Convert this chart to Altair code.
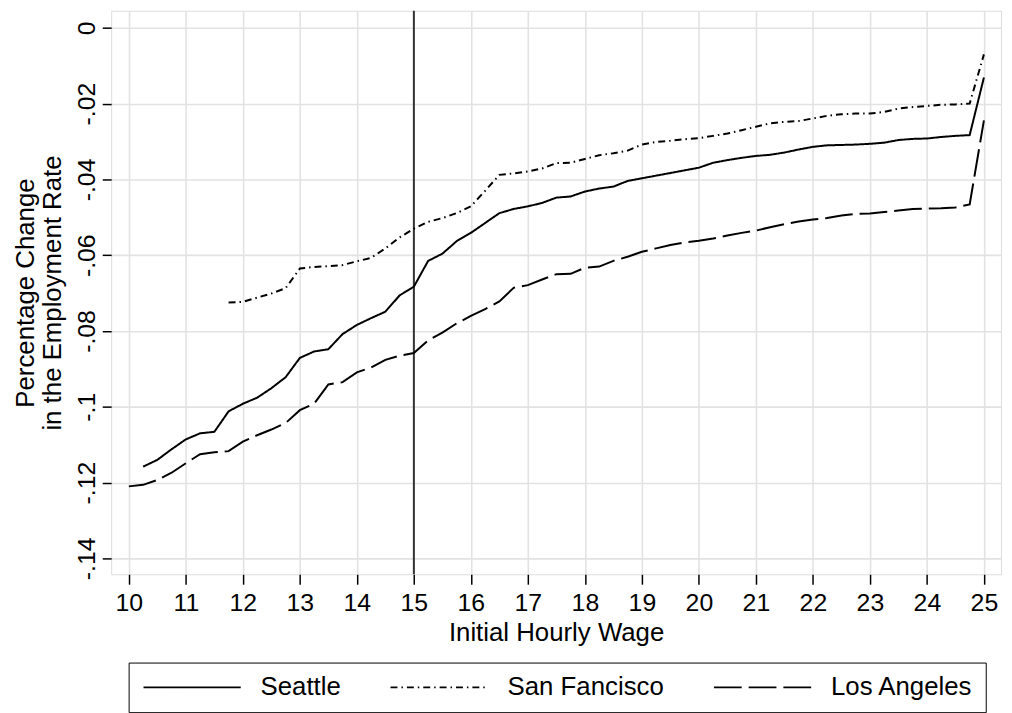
import altair as alt
import pandas as pd

cities = ["Seattle", "San Fancisco", "Los Angeles"]

wage_la = [10.0, 10.25, 10.5, 10.75, 11.0, 11.25, 11.5, 11.75, 12.0, 12.25, 12.5, 12.75,
           13.0, 13.25, 13.5, 13.75, 14.0, 14.25, 14.5, 14.75, 15.0, 15.25, 15.5, 15.75,
           16.0, 16.25, 16.5, 16.75, 17.0, 17.25, 17.5, 17.75, 18.0, 18.25, 18.5, 18.75,
           19.0, 19.25, 19.5, 19.75, 20.0, 20.25, 20.5, 20.75, 21.0, 21.25, 21.5, 21.75,
           22.0, 22.25, 22.5, 22.75, 23.0, 23.25, 23.5, 23.75, 24.0, 24.25, 24.5, 24.75, 25.0]
wage_seattle = wage_la[1:]
wage_sf = wage_la[7:]

seattle = [-0.1158, -0.1140, -0.1112, -0.1086, -0.1070, -0.1066, -0.1012, -0.0992, -0.0976,
           -0.0951, -0.0922, -0.0871, -0.0854, -0.0848, -0.0808, -0.0784, -0.0766, -0.0749,
           -0.0706, -0.0683, -0.0615, -0.0596, -0.0563, -0.0541, -0.0515, -0.0489, -0.0478,
           -0.0471, -0.0462, -0.0448, -0.0445, -0.0432, -0.0424, -0.0419, -0.0404, -0.0397,
           -0.0390, -0.0383, -0.0376, -0.0369, -0.0356, -0.0349, -0.0343, -0.0338, -0.0335,
           -0.0329, -0.0321, -0.0314, -0.0310, -0.0309, -0.0308, -0.0306, -0.0303, -0.0296,
           -0.0293, -0.0292, -0.0288, -0.0285, -0.0283, -0.0131]

san_francisco = [-0.0725, -0.0723, -0.0712, -0.0701, -0.0687, -0.0635, -0.0631, -0.0629,
                 -0.0626, -0.0616, -0.0607, -0.0582, -0.0553, -0.0530, -0.0512, -0.0502,
                 -0.0489, -0.0471, -0.0430, -0.0388, -0.0384, -0.0379, -0.0371, -0.0357,
                 -0.0356, -0.0346, -0.0336, -0.0331, -0.0324, -0.0308, -0.0301, -0.0298,
                 -0.0294, -0.0291, -0.0285, -0.0279, -0.0270, -0.0261, -0.0252, -0.0248,
                 -0.0246, -0.0239, -0.0232, -0.0228, -0.0226, -0.0226, -0.0222, -0.0213,
                 -0.0209, -0.0206, -0.0203, -0.0202, -0.0200, -0.0070]

los_angeles = [-0.1210, -0.1206, -0.1193, -0.1174, -0.1149, -0.1125, -0.1120, -0.1117,
               -0.1092, -0.1075, -0.1060, -0.1043, -0.1009, -0.0992, -0.0941, -0.0935,
               -0.0909, -0.0896, -0.0876, -0.0865, -0.0858, -0.0825, -0.0804, -0.0780,
               -0.0760, -0.0742, -0.0722, -0.0686, -0.0679, -0.0664, -0.0650, -0.0649,
               -0.0633, -0.0630, -0.0615, -0.0604, -0.0591, -0.0582, -0.0573, -0.0566,
               -0.0562, -0.0556, -0.0548, -0.0541, -0.0535, -0.0526, -0.0518, -0.0511,
               -0.0506, -0.0502, -0.0495, -0.0491, -0.0490, -0.0486, -0.0482, -0.0478,
               -0.0477, -0.0476, -0.0474, -0.0466, -0.0244]

x_ticks = [10, 11, 12, 13, 14, 15, 16, 17, 18, 19, 20, 21, 22, 23, 24, 25]
y_ticks = [0, -0.02, -0.04, -0.06, -0.08, -0.10, -0.12, -0.14]
cutoff = [15]

rows = []
for w, v in zip(wage_seattle, seattle):
    rows.append({"wage": w, "change": v, "city": cities[0]})
for w, v in zip(wage_sf, san_francisco):
    rows.append({"wage": w, "change": v, "city": cities[1]})
for w, v in zip(wage_la, los_angeles):
    rows.append({"wage": w, "change": v, "city": cities[2]})
df = pd.DataFrame(rows)

FONT = "Liberation Sans"

xscale = alt.Scale(domain=[9.69, 25.3], nice=False, zero=False)
yscale = alt.Scale(domain=[-0.1442, 0.0045], nice=False, zero=False)

x_axis = alt.Axis(
    values=x_ticks, format="d", grid=True, gridColor="#e2e2e2", gridWidth=1.6,
    domain=False, tickColor="black", tickSize=10, tickWidth=1.5,
    labelFont=FONT, labelFontSize=25, labelColor="black", labelPadding=7,
    labelFlush=False, labelOverlap=False,
    titleFont=FONT, titleFontSize=26, titleFontWeight="normal", titleColor="black",
    titleBaseline="alphabetic", titleY=67,
)
y_axis = alt.Axis(
    values=y_ticks, grid=True, gridColor="#e2e2e2", gridWidth=1.6,
    domain=False, tickColor="black", tickSize=9, tickWidth=1.5,
    labelExpr="datum.value == 0 ? '0' : '-' + replace(format(abs(datum.value), '.2~f'), '0.', '.')",
    labelFont=FONT, labelFontSize=25, labelColor="black", labelAngle=-90,
    labelAlign="center", labelBaseline="alphabetic", labelPadding=7.5,
    labelFlush=False, labelOverlap=False,
    titleFont=FONT, titleFontSize=26, titleFontWeight="normal", titleColor="black",
    titleAngle=-90, titleAlign="center", titleBaseline="top", titleLineHeight=27,
    titleX=-99.5, titleY=284,
)

lines = alt.Chart(df).mark_line(strokeWidth=2, color="black", clip=True).encode(
    x=alt.X("wage:Q", scale=xscale, axis=x_axis, title="Initial Hourly Wage"),
    y=alt.Y("change:Q", scale=yscale, axis=y_axis,
            title=["Percentage Change", "in the Employment Rate"]),
    strokeDash=alt.StrokeDash(
        "city:N",
        scale=alt.Scale(domain=cities, range=[[1, 0], [7, 4, 1.5, 4], [28, 7]]),
        legend=alt.Legend(
            title=None, orient="none", legendX=17.6, legendY=657,
            direction="horizontal", strokeColor="black", padding=12,
            symbolType="M-1,0H8.8", symbolSize=400, symbolStrokeWidth=2,
            symbolStrokeColor="black", symbolFillColor="transparent",
            labelFont=FONT, labelFontSize=26,
            labelColor="black", labelOffset=95, columnPadding=46, labelLimit=400,
        ),
    ),
    order=alt.Order("wage:Q"),
)

rule = alt.Chart(pd.DataFrame({"x": cutoff})).mark_rule(color="#333333", strokeWidth=2).encode(
    x=alt.X("x:Q", scale=xscale)
)

chart = alt.layer(rule, lines).properties(
    width=897, height=568,
    autosize=alt.AutoSizeParams(type="none"),
    padding={"left": 104, "top": 0, "right": 3, "bottom": 137},
).configure_view(stroke="black", strokeWidth=1.5).configure(background="white")

chart.save("out.html", embed_options={"renderer": "svg", "actions": False})
